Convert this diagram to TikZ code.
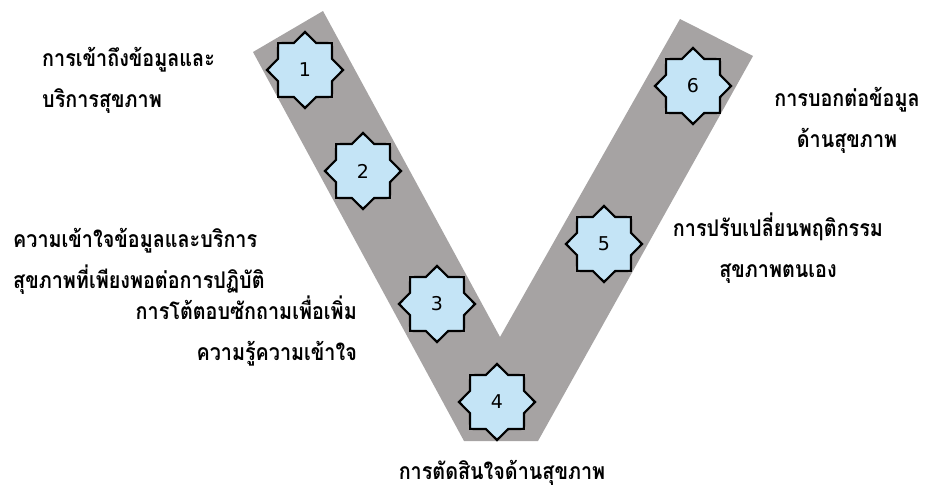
\documentclass[tikz,border=0pt]{standalone}
\usepackage{fontspec}
\newfontfamily\thaifont[Script=Thai,FakeStretch=0.86]{Loma}
\newfontfamily\numfont{DejaVu Sans}
\usetikzlibrary{shapes.geometric}
\definecolor{vgray}{HTML}{A6A3A3}
\definecolor{starblue}{HTML}{C4E4F6}
\begin{document}
\begin{tikzpicture}[x=1pt,y=-1pt,
  starnode/.style={shape=star, star points=8, star point ratio=1.3,
    minimum size=76pt, draw=black, line width=2.2pt, fill=starblue,
    inner sep=0pt, font=\numfont\fontsize{19}{19}\selectfont},
  lbl/.style={font=\thaifont\bfseries\fontsize{23}{41}\selectfont, inner sep=0pt}]
\useasboundingbox (0,0) rectangle (925,490);
\fill[vgray] (253,52) -- (323,11) -- (500,337) -- (680,19) -- (753,56)
  -- (538,441) -- (464,441) -- cycle;
\node[starnode] (s1) at (305,70) {1};
\node[starnode] (s2) at (363,171) {2};
\node[starnode] (s3) at (437,304) {3};
\node[starnode] (s4) at (497,402) {4};
\node[starnode] (s5) at (604,244) {5};
\node[starnode] (s6) at (693,86) {6};
\node[lbl, anchor=west, align=left] (t1) at (42,80) {การเข้าถึงข้อมูลและ\\บริการสุขภาพ};
\node[lbl, anchor=west, align=left] (t2) at (13,261) {ความเข้าใจข้อมูลและบริการ\\สุขภาพที่เพียงพอต่อการปฏิบัติ};
\node[lbl, anchor=east, align=right] (t3) at (357,331) {การโต้ตอบซักถามเพื่อเพิ่ม\\ความรู้ความเข้าใจ};
\node[lbl] (t4) at (502,473) {การตัดสินใจด้านสุขภาพ};
\node[lbl, align=center] (t5) at (847,120) {การบอกต่อข้อมูล\\ด้านสุขภาพ};
\node[lbl, align=center] (t6) at (778,248) {การปรับเปลี่ยนพฤติกรรม\\สุขภาพตนเอง};
\end{tikzpicture}
\end{document}
